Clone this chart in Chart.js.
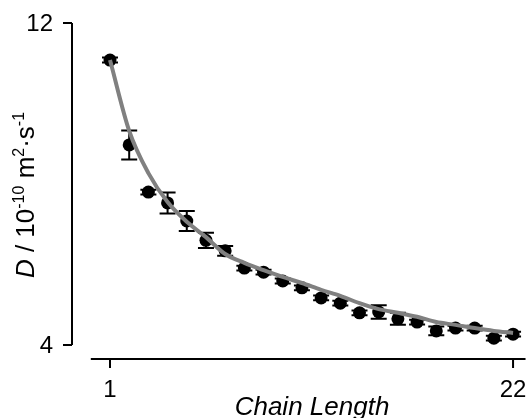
<!DOCTYPE html>
<html>
<head>
<meta charset="utf-8">
<script src="https://cdn.jsdelivr.net/npm/chart.js@4.4.1/dist/chart.umd.min.js"></script>
<style>
  html, body { margin: 0; padding: 0; background: #fff; }
  #wrap { width: 528px; height: 418px; }
</style>
</head>
<body>
<div id="wrap"><canvas id="chart" width="528" height="418"></canvas></div>
<script>
// data
const chainLength  = [1, 2, 3, 4, 5, 6, 7, 8, 9, 10, 11, 12, 13, 14, 15, 16, 17, 18, 19, 20, 21, 22];
const diffusion    = [11.08, 8.97, 7.80, 7.53, 7.08, 6.60, 6.34, 5.91, 5.81, 5.59, 5.42, 5.17, 5.04, 4.80, 4.82, 4.65, 4.57, 4.35, 4.42, 4.42, 4.17, 4.27];
const diffusionErr = [0.06, 0.36, 0.06, 0.26, 0.25, 0.19, 0.12, 0.06, 0.06, 0.06, 0.06, 0.06, 0.06, 0.06, 0.17, 0.15, 0.06, 0.11, 0.06, 0.06, 0.06, 0.06];
const fitCurve     = [11.08, 9.32, 8.27, 7.55, 7.06, 6.68, 6.26, 6.04, 5.86, 5.69, 5.54, 5.37, 5.22, 5.04, 4.89, 4.80, 4.70, 4.57, 4.50, 4.42, 4.35, 4.30];
const xTicks = [1, 22];
const yTicks = [4, 12];

const FONT = '"Liberation Sans", Arial, sans-serif';

// Prism style offset axes, error bars and titles
const prismAxes = {
    id: 'prismAxes',
    beforeDatasetsDraw(chart) {
        const ctx = chart.ctx, xs = chart.scales.x, ys = chart.scales.y;
        ctx.save();
        ctx.strokeStyle = '#000';
        ctx.lineWidth = 2;
        chainLength.forEach((n, i) => {
            const px = xs.getPixelForValue(n);
            const top = ys.getPixelForValue(diffusion[i] + diffusionErr[i]);
            const bot = ys.getPixelForValue(diffusion[i] - diffusionErr[i]);
            ctx.beginPath();
            ctx.moveTo(px, top); ctx.lineTo(px, bot);
            ctx.moveTo(px - 8, top); ctx.lineTo(px + 8, top);
            ctx.moveTo(px - 8, bot); ctx.lineTo(px + 8, bot);
            ctx.stroke();
        });
        ctx.restore();
    },
    afterDraw(chart) {
        const ctx = chart.ctx, xs = chart.scales.x, ys = chart.scales.y;
        const area = chart.chartArea;
        ctx.save();
        ctx.strokeStyle = '#000';
        ctx.fillStyle = '#000';
        ctx.lineWidth = 2;

        // y axis with end ticks
        const ax = area.left;
        ctx.beginPath();
        ctx.moveTo(ax, ys.getPixelForValue(yTicks[0]));
        ctx.lineTo(ax, ys.getPixelForValue(yTicks[yTicks.length - 1]));
        yTicks.forEach(v => {
            const py = ys.getPixelForValue(v);
            ctx.moveTo(ax - 9, py); ctx.lineTo(ax, py);
        });
        ctx.stroke();

        // x axis, offset below the data
        const ay = area.bottom;
        ctx.beginPath();
        ctx.moveTo(xs.getPixelForValue(0), ay);
        ctx.lineTo(xs.getPixelForValue(22.65), ay);
        xTicks.forEach(v => {
            const px = xs.getPixelForValue(v);
            ctx.moveTo(px, ay); ctx.lineTo(px, ay + 9);
        });
        ctx.stroke();

        // tick labels
        ctx.font = '24px ' + FONT;
        ctx.textBaseline = 'middle';
        ctx.textAlign = 'right';
        yTicks.forEach(v => ctx.fillText(String(v), ax - 19, ys.getPixelForValue(v) + 1));
        ctx.textAlign = 'center';
        xTicks.forEach(v => ctx.fillText(String(v), xs.getPixelForValue(v), ay + 31));

        // x title
        ctx.font = 'italic 26px ' + FONT;
        ctx.textBaseline = 'alphabetic';
        ctx.fillText('Chain Length', 312, 415);

        // y title with superscripts
        const parts = [
            { t: 'D', f: 'italic 26px ' + FONT, up: 0 },
            { t: ' / 10', f: '26px ' + FONT, up: 0 },
            { t: '-10', f: '16px ' + FONT, up: 10 },
            { t: ' m', f: '26px ' + FONT, up: 0 },
            { t: '2', f: '16px ' + FONT, up: 10 },
            { t: '\u00B7s', f: '26px ' + FONT, up: 0 },
            { t: '-1', f: '16px ' + FONT, up: 10 }
        ];
        let total = 0;
        parts.forEach(p => { ctx.font = p.f; p.w = ctx.measureText(p.t).width; total += p.w; });
        ctx.translate(34, 195);
        ctx.rotate(-Math.PI / 2);
        ctx.textAlign = 'left';
        let cx = -total / 2;
        parts.forEach(p => {
            ctx.font = p.f;
            ctx.fillText(p.t, cx, -p.up);
            cx += p.w;
        });
        ctx.restore();
    }
};

const ctx = document.getElementById('chart').getContext('2d');
new Chart(ctx, {
    type: 'line',
    data: {
        datasets: [{
            // fitted curve, drawn on top
            data: chainLength.map((n, i) => ({ x: n, y: fitCurve[i] })),
            borderColor: '#808080',
            borderWidth: 4,
            pointRadius: 0,
            cubicInterpolationMode: 'monotone',
            fill: false,
            order: 0
        }, {
            data: chainLength.map((n, i) => ({ x: n, y: diffusion[i] })),
            showLine: false,
            pointRadius: 6.5,
            pointBackgroundColor: '#000',
            pointBorderColor: '#000',
            pointBorderWidth: 0,
            order: 1
        }]
    },
    options: {
        responsive: false,
        animation: false,
        clip: false,
        layout: { padding: { left: 72, right: 0, top: 23, bottom: 59 } },
        scales: {
            x: { type: 'linear', min: -0.98, max: 22.44, display: false },
            y: { type: 'linear', min: 3.652, max: 12, display: false }
        },
        plugins: {
            legend: { display: false },
            tooltip: { enabled: false }
        }
    },
    plugins: [prismAxes]
});
</script>
</body>
</html>
